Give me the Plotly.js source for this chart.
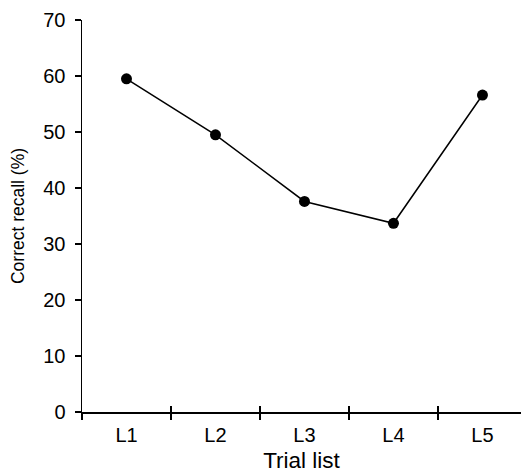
<!DOCTYPE html>
<html>
<head>
<meta charset="utf-8">
<script src="https://cdn.plot.ly/plotly-3.0.1.min.js"></script>
<style>html,body{margin:0;padding:0;background:#fff;}#chart{width:521px;height:473px;}</style>
</head>
<body>
<div id="chart"></div>
<script>
const trialLists = ["L1", "L2", "L3", "L4", "L5"];
const correctRecall = [59.5, 49.5, 37.6, 33.7, 56.6];
const yTickValues = [0, 10, 20, 30, 40, 50, 60, 70];

const font = {family: "Liberation Sans, Arial, sans-serif", color: "#000"};

const trace = {
  x: trialLists,
  y: correctRecall,
  type: "scatter",
  mode: "lines+markers",
  line: {color: "#000", width: 1.5},
  marker: {color: "#000", size: 11},
  hoverinfo: "skip",
  showlegend: false
};

const layout = {
  width: 521,
  height: 473,
  margin: {l: 82, r: 0, t: 20, b: 61},
  paper_bgcolor: "#fff",
  plot_bgcolor: "#fff",
  font: Object.assign({size: 18}, font),
  showlegend: false,
  xaxis: {
    type: "category",
    categoryarray: trialLists,
    range: [-0.5, 4.433],
    showline: true,
    linecolor: "#000",
    linewidth: 1.5,
    showgrid: false,
    zeroline: false,
    ticks: "outside",
    tickson: "boundaries",
    ticklen: 6,
    tickwidth: 1.3,
    tickcolor: "#000",
    ticklabelstandoff: 4,
    tickfont: Object.assign({size: 20}, font),
    title: {text: "Trial list", font: Object.assign({size: 22.5}, font), standoff: 8}
  },
  xaxis2: {
    type: "category",
    categoryarray: trialLists,
    overlaying: "x",
    matches: "x",
    anchor: "y",
    side: "bottom",
    range: [-0.5, 4.433],
    showline: false,
    showgrid: false,
    zeroline: false,
    showticklabels: false,
    ticks: "inside",
    tickson: "boundaries",
    ticklen: 6,
    tickwidth: 1.3,
    tickcolor: "#000"
  },
  yaxis: {
    range: [0, 70],
    tickvals: yTickValues,
    showline: true,
    linecolor: "#000",
    linewidth: 1.5,
    showgrid: false,
    zeroline: false,
    ticks: "outside",
    ticklen: 6,
    tickwidth: 1.3,
    tickcolor: "#000",
    ticklabelstandoff: 5,
    tickfont: Object.assign({size: 20}, font),
    title: {text: "Correct recall (%)", font: Object.assign({size: 17.5}, font), standoff: 14}
  }
};

const trace2 = Object.assign({}, trace, {xaxis: "x2", mode: "markers", marker: {color: "rgba(0,0,0,0)", size: 1}});

Plotly.newPlot("chart", [trace2, trace], layout, {staticPlot: true, displayModeBar: false});
</script>
</body>
</html>
